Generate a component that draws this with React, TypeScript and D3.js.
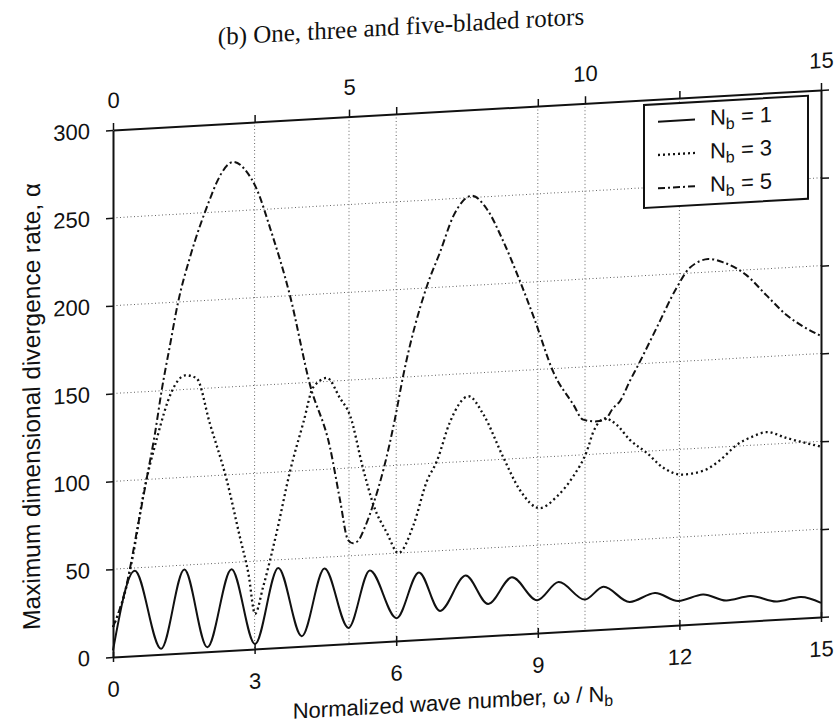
import { useEffect, useRef } from 'react';
import {
  select,
  scaleLinear,
  axisBottom,
  axisTop,
  axisLeft,
  axisRight,
  line,
  curveMonotoneX,
} from 'd3';

const W = 839;
const H = 724;
const M = { left: 113, right: 821, top: 130, bottom: 657 };
// the scanned page is sheared: vertical lines stay vertical, horizontals drop to the left
const SHEAR = -0.0565;

// N_b = 1 (solid)
const nb1X = [0, 0.46, 1.02, 1.51, 2.0, 2.51, 3.01, 3.5, 4.0, 4.48, 4.99, 5.44, 6.01, 6.48, 6.93, 7.47, 7.95, 8.45, 8.99, 9.44, 10.0, 10.39, 10.95, 11.48, 11.98, 12.5, 13.0, 13.5, 14.07, 14.56, 15];
const nb1Y = [3.8, 48.4, 3.1, 47.5, 2.5, 46.2, 2.8, 45.4, 5.8, 43.6, 9, 41, 13, 38.3, 15.7, 35, 18.1, 32.5, 18.7, 28.3, 17.5, 24.2, 14.7, 19, 13.7, 16.6, 12.4, 14.2, 10.2, 12, 8];

// N_b = 3 (dotted)
const nb3X = [0, 0.25, 0.43, 0.64, 0.93, 1.24, 1.53, 1.77, 2.05, 2.41, 2.69, 2.87, 3.01, 3.18, 3.47, 3.75, 4.04, 4.24, 4.53, 4.81, 5.02, 5.3, 5.52, 5.8, 6.05, 6.36, 6.65, 6.86, 7.14, 7.53, 7.85, 8.27, 8.62, 9.05, 9.4, 9.75, 10.04, 10.18, 10.42, 10.67, 10.95, 11.31, 11.66, 12.08, 12.5, 12.86, 13.21, 13.56, 13.84, 14.27, 14.62, 15];
const nb3Y = [17, 36, 58, 91, 123, 149, 158, 156, 130, 97, 64, 43, 20, 35, 66, 100, 128, 147, 152, 140, 130, 99, 78, 62, 50, 65, 90, 101, 123, 137, 126, 101, 82, 71, 77, 88, 102, 113, 120, 116, 107, 99, 90, 85.5, 87, 92.5, 100.6, 105, 107, 103, 100, 97];

// N_b = 5 (dash-dot)
const nb5X = [0, 0.29, 0.5, 0.71, 0.89, 1.03, 1.21, 1.38, 1.63, 2.06, 2.2, 2.55, 2.83, 3.04, 3.33, 3.75, 4.17, 4.6, 4.81, 4.98, 5.09, 5.2, 5.34, 5.52, 5.73, 5.97, 6.15, 6.65, 6.93, 7.21, 7.6, 7.92, 8.27, 8.62, 8.94, 9.33, 9.75, 9.96, 10.25, 10.42, 10.6, 10.74, 10.95, 11.13, 11.52, 11.94, 12.22, 12.61, 12.93, 13.42, 13.84, 14.27, 14.62, 15];
const nb5Y = [17, 41, 70, 100, 126, 150, 176, 200, 225, 258, 267, 278, 272, 262, 239, 200, 149, 112, 82, 59, 57, 58.5, 66, 79, 98, 126, 151, 201, 220, 240, 251, 243, 224, 201, 178, 148, 129, 120, 118.6, 119.3, 125.7, 129.3, 140.5, 149.5, 170, 192, 203, 207.4, 205, 197, 185, 173, 166, 160];

const gridX = [3, 5, 6, 9, 10, 12];
const gridY = [50, 100, 150, 200, 250];
const bottomTicks = [0, 3, 6, 9, 12, 15];
const topTicks = [0, 3, 5, 6, 9, 10, 12, 15];
const topLabels = [0, 5, 10, 15];
const yTicks = [0, 50, 100, 150, 200, 250, 300];

const SANS = 'Liberation Sans, Arial, Helvetica, sans-serif';
const SERIF = 'Liberation Serif, Times New Roman, serif';

const series = [
  { nb: '1', xs: nb1X, ys: nb1Y, dash: null },
  { nb: '3', xs: nb3X, ys: nb3Y, dash: '2,3' },
  { nb: '5', xs: nb5X, ys: nb5Y, dash: '7,3,2,3' },
];

const App = () => {
  const ref = useRef(null);

  useEffect(() => {
    const x = scaleLinear().domain([0, 15]).range([M.left, M.right]);
    const y = scaleLinear().domain([0, 300]).range([M.bottom, M.top]);

    const svg = select(ref.current);
    svg.selectAll('*').remove();
    svg.append('rect').attr('width', W).attr('height', H).attr('fill', '#fff');

    const g = svg
      .append('g')
      .attr('transform', `matrix(1,${SHEAR},0,1,0,${(-SHEAR * M.left).toFixed(3)})`);

    // grid
    g.append('g')
      .selectAll('line')
      .data(gridX)
      .join('line')
      .attr('x1', (d) => x(d))
      .attr('x2', (d) => x(d))
      .attr('y1', M.top)
      .attr('y2', M.bottom)
      .attr('stroke', '#666')
      .attr('stroke-width', 1)
      .attr('stroke-dasharray', '1,2.5');
    g.append('g')
      .selectAll('line')
      .data(gridY)
      .join('line')
      .attr('x1', M.left)
      .attr('x2', M.right)
      .attr('y1', (d) => y(d))
      .attr('y2', (d) => y(d))
      .attr('stroke', '#666')
      .attr('stroke-width', 1)
      .attr('stroke-dasharray', '1,2.5');

    // curves
    const lineGen = line()
      .x((d) => x(d[0]))
      .y((d) => y(d[1]))
      .curve(curveMonotoneX);

    series.forEach((s) => {
      const pts = s.xs.map((v, i) => [v, s.ys[i]]);
      g.append('path')
        .attr('d', lineGen(pts))
        .attr('fill', 'none')
        .attr('stroke', '#111')
        .attr('stroke-width', s.dash === '2,3' ? 2.3 : 2)
        .attr('stroke-dasharray', s.dash);
    });

    const styleAxis = (sel) => {
      sel.select('.domain').attr('stroke-width', 2).attr('stroke', '#111');
      sel.selectAll('.tick line').attr('stroke-width', 1.5).attr('stroke', '#111');
      sel
        .selectAll('text')
        .attr('font-size', 22)
        .attr('font-family', SANS)
        .attr('fill', '#111');
    };

    // axes
    const bottom = g
      .append('g')
      .attr('transform', `translate(0,${M.bottom})`)
      .call(axisBottom(x).tickValues(bottomTicks).tickSize(5).tickSizeOuter(0).tickPadding(19))
      .call(styleAxis);
    bottom.selectAll('.tick line').attr('y1', -5);

    g.append('g')
      .attr('transform', `translate(0,${M.top})`)
      .call(
        axisTop(x)
          .tickValues(topTicks)
          .tickSize(7)
          .tickSizeOuter(0)
          .tickPadding(15)
          .tickFormat((d) => (topLabels.includes(+d) ? String(d) : ''))
      )
      .call(styleAxis);

    g.append('g')
      .attr('transform', `translate(${M.left},0)`)
      .call(axisLeft(y).tickValues(yTicks).tickSize(7).tickSizeOuter(0).tickPadding(16))
      .call(styleAxis);

    g.append('g')
      .attr('transform', `translate(${M.right},0)`)
      .call(axisRight(y).tickValues(yTicks).tickSize(8).tickSizeOuter(0).tickFormat(() => ''))
      .call(styleAxis);

    // title
    g.append('text')
      .attr('x', 401)
      .attr('y', 51)
      .attr('text-anchor', 'middle')
      .attr('font-family', SERIF)
      .attr('font-size', 25)
      .attr('fill', '#111')
      .text('(b) One, three and five-bladed rotors');

    // y label
    g.append('text')
      .attr('transform', 'translate(40,402) rotate(-90)')
      .attr('text-anchor', 'middle')
      .attr('font-family', SANS)
      .attr('font-size', 24.5)
      .attr('fill', '#111')
      .text('Maximum dimensional divergence rate, α');

    // x label
    const xl = g
      .append('text')
      .attr('x', 453)
      .attr('y', 729)
      .attr('text-anchor', 'middle')
      .attr('font-family', SANS)
      .attr('font-size', 22)
      .attr('fill', '#111');
    xl.append('tspan').text('Normalized wave number, ω / N');
    xl.append('tspan').attr('font-size', 16).attr('dy', 5).text('b');

    // legend
    const lg = g.append('g');
    lg.append('rect')
      .attr('x', 644)
      .attr('y', 135)
      .attr('width', 164)
      .attr('height', 103)
      .attr('fill', '#fff')
      .attr('stroke', '#111')
      .attr('stroke-width', 2);

    series.forEach((s, i) => {
      const cy = 151 + i * 33.3;
      lg.append('line')
        .attr('x1', 658)
        .attr('x2', 695)
        .attr('y1', cy + 1.5)
        .attr('y2', cy + 1.5)
        .attr('stroke', '#111')
        .attr('stroke-width', s.dash === '2,3' ? 2.3 : 2)
        .attr('stroke-dasharray', s.dash);
      const t = lg
        .append('text')
        .attr('x', 710)
        .attr('y', cy + 8)
        .attr('font-family', SANS)
        .attr('font-size', 22)
        .attr('fill', '#111');
      t.append('tspan').text('N');
      t.append('tspan').attr('font-size', 16).attr('dy', 5).text('b');
      t.append('tspan').attr('dy', -5).text(` = ${s.nb}`);
    });
  }, []);

  return (
    <svg
      ref={ref}
      width={W}
      height={H}
      style={{ position: 'absolute', left: 0, top: 0, display: 'block' }}
    ></svg>
  );
};

export default App;
